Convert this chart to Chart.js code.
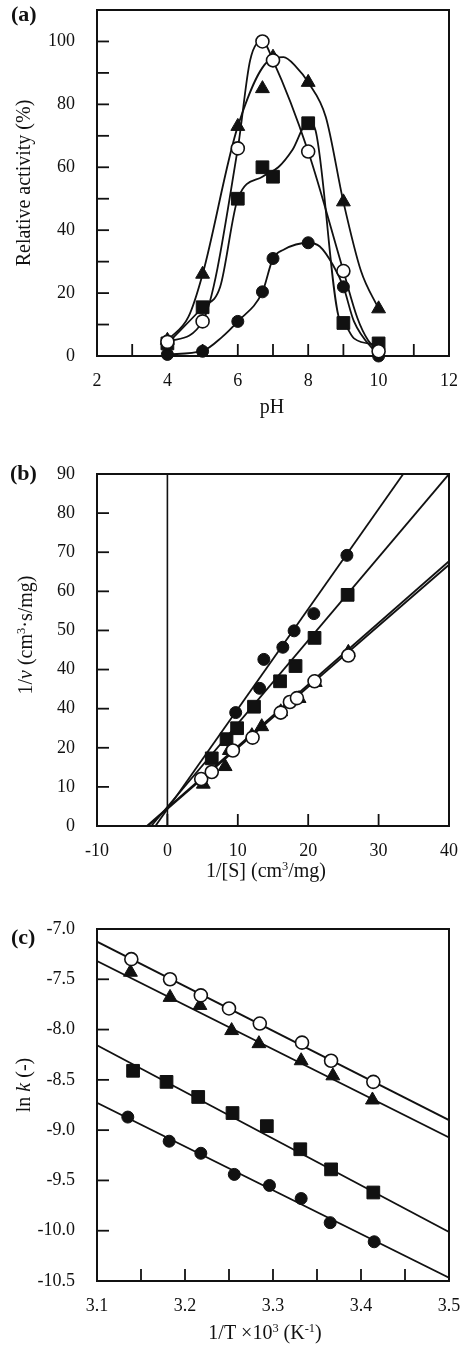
<!DOCTYPE html>
<html>
<head>
<meta charset="utf-8">
<script src="https://cdn.jsdelivr.net/npm/chart.js@4.4.0/dist/chart.umd.min.js"></script>
<style>
  body { margin: 0; background: #fff; width: 465px; height: 1347px; position: relative; overflow: hidden; }
  canvas { position: absolute; left: 0; }
</style>
</head>
<body>
<canvas id="chartA" width="465" height="440" style="top:0"></canvas>
<canvas id="chartB" width="465" height="460" style="top:440px"></canvas>
<canvas id="chartC" width="465" height="447" style="top:900px"></canvas>
<script>
// ---- (a) pH profile ----
const phValues   = [4, 5, 6, 6.7, 7, 8, 9, 10];
const actOpen    = [4.5, 11, 66, 100, 94, 65, 27, 1.5];
const actTri     = [5, 26, 73, 85, 95, 87, 49, 15];
const actSquare  = [4, 15.5, 50, 60, 57, 74, 10.5, 4];
const actFilled  = [0.5, 1.5, 11, 20.4, 31, 36, 22, 0];
// smooth curves as drawn
const curveOpenX   = [4, 5, 6, 6.35, 6.7, 7, 8, 9, 9.4, 9.7, 10];
const curveOpenY   = [4.5, 11, 66, 94, 100, 94, 65, 27, 12, 5, 1.5];
const curveTriX    = [4, 4.6, 5, 6, 7, 7.3, 7.65, 8, 8.5, 9, 9.5, 10];
const curveTriY    = [5, 12.5, 26, 73, 94.7, 95, 92, 87, 76, 49, 27, 15];
const curveSqX     = [4, 5, 5.5, 6, 6.7, 7.15, 7.55, 8, 8.2, 8.9, 9, 9.3, 10];
const curveSqY     = [4, 15.5, 22, 50, 57, 60, 65.5, 74.4, 72, 11.3, 10.5, 5.6, 3.5];
const curveFillX   = [4, 5, 5.55, 6, 6.7, 7, 7.3, 8, 8.33, 8.7, 9, 9.3, 10];
const curveFillY   = [0.5, 1.6, 6, 11, 20.4, 31, 33.8, 36, 34.8, 29, 22, 11, 0];
const aXTickLabels = [2, 4, 6, 8, 10, 12];
const aYTickLabels = [0, 20, 40, 60, 80, 100];

// ---- (b) Lineweaver-Burk ----
const invSFilled = [9.7, 13.1, 13.7, 16.4, 18.0, 20.8, 25.5];
const invVFilled = [29.0, 35.2, 42.6, 45.7, 49.9, 54.3, 69.2];
const invSSquare = [6.3, 8.4, 9.9, 12.3, 16.0, 18.2, 20.9, 25.6];
const invVSquare = [17.3, 22.2, 25.0, 30.5, 37.0, 40.9, 48.1, 59.1];
const invSTri    = [5.1, 8.2, 8.8, 12.0, 13.4, 16.1, 18.7, 21.0, 25.7];
const invVTri    = [10.7, 15.2, 19.3, 23.1, 25.4, 29.2, 32.6, 36.7, 44.4];
const invSOpen   = [4.8, 6.3, 9.3, 12.1, 16.1, 17.4, 18.4, 20.9, 25.7];
const invVOpen   = [12.0, 13.8, 19.3, 22.6, 29.0, 31.7, 32.7, 37.0, 43.6];
const fitBFilledX = [-1.7, 33.5], fitBFilledY = [0, 90];
const fitBSquareX = [-2.3, 40],   fitBSquareY = [0, 90];
const fitBTriX    = [-2.8, 40],   fitBTriY    = [0, 66.8];
const fitBOpenX   = [-2.9, 40],   fitBOpenY   = [0, 67.7];
const bYTickLabels = ['0', '10', '20', '40', '40', '50', '60', '70', '80', '90'];
const bXTickLabels = ['-10', '0', '10', '20', '30', '40'];

// ---- (c) Arrhenius ----
const invTOpen   = [3.139, 3.183, 3.218, 3.250, 3.285, 3.333, 3.366, 3.414];
const lnkOpen    = [-7.30, -7.50, -7.66, -7.79, -7.94, -8.13, -8.31, -8.52];
const invTTri    = [3.138, 3.183, 3.217, 3.253, 3.284, 3.332, 3.368, 3.413];
const lnkTri     = [-7.43, -7.68, -7.76, -8.01, -8.14, -8.31, -8.46, -8.70];
const invTSquare = [3.141, 3.179, 3.215, 3.254, 3.293, 3.331, 3.366, 3.414];
const lnkSquare  = [-8.41, -8.52, -8.67, -8.83, -8.96, -9.19, -9.39, -9.62];
const invTFilled = [3.135, 3.182, 3.218, 3.256, 3.296, 3.332, 3.365, 3.415];
const lnkFilled  = [-8.87, -9.11, -9.23, -9.44, -9.55, -9.68, -9.92, -10.11];
const fitCX = [3.1, 3.5];
const fitCOpenY   = [-7.126, -8.900];
const fitCTriY    = [-7.319, -9.072];
const fitCSquareY = [-8.156, -10.012];
const fitCFilledY = [-8.727, -10.467];
const cXTickVals   = [3.1, 3.15, 3.2, 3.25, 3.3, 3.35, 3.4, 3.45, 3.5];
const cXTickLabels = ['3.1', '', '3.2', '', '3.3', '', '3.4', '', '3.5'];
const cYTickVals   = [-10.5, -10, -9.5, -9, -8.5, -8, -7.5, -7];
const cYTickLabels = ['-10.5', '-10.0', '-9.5', '-9.0', '-8.5', '-8.0', '-7.5', '-7.0'];

const INK = '#111';
const FONT = '"Liberation Serif", "Times New Roman", serif';

const mk = {
  open:   { pointStyle: 'circle',   pointRadius: 6.5, pointBackgroundColor: '#fff', pointBorderColor: INK, pointBorderWidth: 1.6 },
  filled: { pointStyle: 'circle',   pointRadius: 6,   pointBackgroundColor: INK,    pointBorderColor: INK, pointBorderWidth: 1 },
  square: { pointStyle: 'rect',     pointRadius: 9,   pointBackgroundColor: INK,    pointBorderColor: INK, pointBorderWidth: 1 },
  tri:    { pointStyle: 'triangle', pointRadius: 8,   pointBackgroundColor: INK,    pointBorderColor: INK, pointBorderWidth: 1 }
};

function pts(xs, ys) { return xs.map((x, i) => ({ x: x, y: ys[i] })); }
function marks(xs, ys, style) {
  return Object.assign({ data: pts(xs, ys), showLine: false, clip: false, order: 0 }, style);
}
function line(xs, ys, smooth) {
  return {
    data: pts(xs, ys), showLine: true, pointRadius: 0, borderColor: INK, borderWidth: 1.8,
    tension: smooth ? 0.4 : 0, cubicInterpolationMode: smooth ? 'monotone' : 'default', order: 1
  };
}

// box + inward ticks
const frameTicks = {
  id: 'frameTicks',
  beforeDatasetsDraw(chart) {
    const { ctx, chartArea: a, scales } = chart;
    ctx.save();
    ctx.strokeStyle = INK;
    ctx.lineWidth = 1.8;
    scales.x.ticks.forEach(t => {
      const px = scales.x.getPixelForValue(t.value);
      if (px < a.left + 1 || px > a.right - 1) return;
      ctx.beginPath(); ctx.moveTo(px, a.bottom); ctx.lineTo(px, a.bottom - 12); ctx.stroke();
    });
    scales.y.ticks.forEach(t => {
      const py = scales.y.getPixelForValue(t.value);
      if (py < a.top + 1 || py > a.bottom - 1) return;
      ctx.beginPath(); ctx.moveTo(a.left, py); ctx.lineTo(a.left + 12, py); ctx.stroke();
    });
    ctx.lineWidth = 2;
    ctx.strokeRect(a.left, a.top, a.right - a.left, a.bottom - a.top);
    ctx.restore();
  }
};

// titles with italic / superscript parts
const richText = {
  id: 'richText',
  afterDraw(chart, args, opts) {
    const ctx = chart.ctx;
    (opts.items || []).forEach(it => {
      ctx.save();
      ctx.translate(it.x, it.y);
      if (it.rot) ctx.rotate(it.rot);
      const segs = it.parts.map(p => {
        const fs = p.sup ? it.size * 0.62 : it.size;
        const font = (p.it ? 'italic ' : '') + (it.bold ? 'bold ' : '') + fs + 'px ' + FONT;
        ctx.font = font;
        return { p: p, font: font, w: ctx.measureText(p.t).width };
      });
      const total = segs.reduce((s, g) => s + g.w, 0);
      let cx = it.align === 'left' ? 0 : -total / 2;
      ctx.fillStyle = INK;
      ctx.textBaseline = 'alphabetic';
      ctx.textAlign = 'left';
      segs.forEach(g => {
        ctx.font = g.font;
        ctx.fillText(g.p.t, cx, g.p.sup ? -it.size * 0.36 : 0);
        cx += g.w;
      });
      ctx.restore();
    });
  }
};

function makeChart(id, datasets, xs, ys, plotTop, plotBottom, items) {
  const cv = document.getElementById(id);
  const H = cv.height;
  const tickFont = { family: FONT, size: 18 };
  return new Chart(cv, {
    type: 'scatter',
    data: { datasets: datasets },
    options: {
      responsive: false, animation: false, devicePixelRatio: 1,
      layout: { padding: { left: 0, right: 16, top: plotTop, bottom: 0 } },
      plugins: { legend: { display: false }, tooltip: { enabled: false }, richText: { items: items } },
      scales: {
        x: Object.assign({
          type: 'linear', position: 'bottom',
          grid: { display: false }, border: { display: false },
          afterFit: s => { s.height = H - plotBottom; s.paddingLeft = 0; s.paddingRight = 0; }
        }, xs, { ticks: Object.assign({ color: INK, font: tickFont, padding: 6, maxRotation: 0, autoSkip: false }, xs.ticks) }),
        y: Object.assign({
          type: 'linear', position: 'left',
          grid: { display: false }, border: { display: false },
          afterFit: s => { s.width = 97; s.paddingTop = 0; s.paddingBottom = 0; }
        }, ys, { ticks: Object.assign({ color: INK, font: tickFont, padding: 14, autoSkip: false }, ys.ticks) })
      }
    },
    plugins: [frameTicks, richText]
  });
}

// (a)
makeChart('chartA', [
  marks(phValues, actOpen, mk.open),
  marks(phValues, actTri, mk.tri),
  marks(phValues, actSquare, mk.square),
  marks(phValues, actFilled, mk.filled),
  line(curveOpenX, curveOpenY, true),
  line(curveTriX, curveTriY, true),
  line(curveSqX, curveSqY, true),
  line(curveFillX, curveFillY, true)
], {
  min: 2, max: 12,
  ticks: { stepSize: 1, callback: v => aXTickLabels.includes(v) ? String(v) : '' }
}, {
  min: 0, max: 110,
  ticks: { stepSize: 10, callback: v => aYTickLabels.includes(v) ? String(v) : '' }
}, 5, 356, [
  { x: 11, y: 21, size: 22, bold: true, align: 'left', parts: [{ t: '(a)' }] },
  { x: 272, y: 413, size: 20, parts: [{ t: 'pH' }] },
  { x: 30, y: 183, size: 20, rot: -Math.PI / 2, parts: [{ t: 'Relative activity (%)' }] }
]);

// (b)
makeChart('chartB', [
  marks(invSOpen, invVOpen, mk.open),
  marks(invSTri, invVTri, mk.tri),
  marks(invSSquare, invVSquare, mk.square),
  marks(invSFilled, invVFilled, mk.filled),
  line(fitBFilledX, fitBFilledY, false),
  line(fitBSquareX, fitBSquareY, false),
  line(fitBTriX, fitBTriY, false),
  line(fitBOpenX, fitBOpenY, false),
  Object.assign(line([0, 0], [0, 90], false), { borderWidth: 1.6 })
], {
  min: -10, max: 40,
  ticks: { stepSize: 10, callback: (v, i) => bXTickLabels[i] }
}, {
  min: 0, max: 90,
  ticks: { stepSize: 10, callback: (v, i) => bYTickLabels[i] }
}, 34, 386, [
  { x: 10, y: 40, size: 22, bold: true, align: 'left', parts: [{ t: '(b)' }] },
  { x: 266, y: 437, size: 20, parts: [{ t: '1/[S] (cm' }, { t: '3', sup: true }, { t: '/mg)' }] },
  { x: 32, y: 195, size: 20, rot: -Math.PI / 2, parts: [{ t: '1/' }, { t: 'v', it: true }, { t: ' (cm' }, { t: '3', sup: true }, { t: '·s/mg)' }] }
]);

// (c)
makeChart('chartC', [
  marks(invTOpen, lnkOpen, mk.open),
  marks(invTTri, lnkTri, mk.tri),
  marks(invTSquare, lnkSquare, mk.square),
  marks(invTFilled, lnkFilled, mk.filled),
  line(fitCX, fitCOpenY, false),
  line(fitCX, fitCTriY, false),
  line(fitCX, fitCSquareY, false),
  line(fitCX, fitCFilledY, false)
], {
  min: 3.1, max: 3.5,
  afterBuildTicks: s => { s.ticks = cXTickVals.map(v => ({ value: v })); },
  ticks: { callback: (v, i) => cXTickLabels[i] }
}, {
  min: -10.5, max: -7,
  afterBuildTicks: s => { s.ticks = cYTickVals.map(v => ({ value: v })); },
  ticks: { callback: (v, i) => cYTickLabels[i] }
}, 29, 381, [
  { x: 11, y: 44, size: 22, bold: true, align: 'left', parts: [{ t: '(c)' }] },
  { x: 265, y: 439, size: 20, parts: [{ t: '1/T ×10' }, { t: '3', sup: true }, { t: ' (K' }, { t: '-1', sup: true }, { t: ')' }] },
  { x: 30, y: 185, size: 20, rot: -Math.PI / 2, parts: [{ t: 'ln ' }, { t: 'k', it: true }, { t: ' (-)' }] }
]);
</script>
</body>
</html>
